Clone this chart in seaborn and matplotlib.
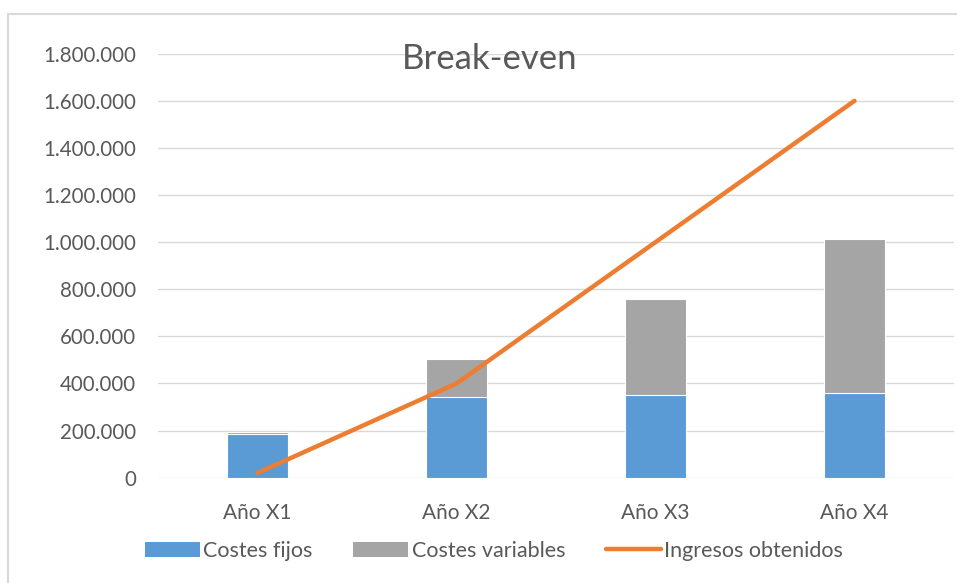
import numpy as np
import pandas as pd
import matplotlib
matplotlib.use("Agg")
import matplotlib.pyplot as plt
from matplotlib.lines import Line2D
from matplotlib.patches import Patch
from matplotlib.ticker import FuncFormatter
import seaborn as sns

years = ["Año X1", "Año X2", "Año X3", "Año X4"]
costes_fijos = [186000, 341000, 351000, 361000]
costes_variables = [8000, 163000, 408000, 654000]
ingresos = [20000, 400000, 1000000, 1600000]
y_ticks = [0, 200000, 400000, 600000, 800000, 1000000, 1200000, 1400000, 1600000, 1800000]

BLUE = "#5B9BD5"
GRAY = "#A5A5A5"
ORANGE = "#ED7D31"
TXT = "#595959"
GRID = "#D9D9D9"

sns.set_theme(style="white")
plt.rcParams["font.family"] = ["Lato", "DejaVu Sans"]

df = pd.DataFrame({"year": years, "fijos": costes_fijos,
                   "variables": costes_variables, "ingresos": ingresos})
df["total"] = df["fijos"] + df["variables"]

fig = plt.figure(figsize=(9.57, 5.83), dpi=100)
ax = fig.add_axes([158/957, 1-477.7/583, (954-158)/957, (477.7-53.7)/583])

sns.barplot(data=df, x="year", y="total", color=GRAY, width=0.31, ax=ax,
            saturation=1, edgecolor="white", linewidth=0.8, zorder=2)
sns.barplot(data=df, x="year", y="fijos", color=BLUE, width=0.31, ax=ax,
            saturation=1, edgecolor="white", linewidth=0.8, zorder=3)
ax.plot(np.arange(len(years)), df["ingresos"], color=ORANGE, lw=3.2,
        solid_capstyle="round", solid_joinstyle="round", zorder=4)

ax.set_xlim(-0.5, len(years) - 0.5)
ax.set_ylim(0, 1800000)
ax.set_yticks(y_ticks)
ax.yaxis.set_major_formatter(FuncFormatter(lambda v, p: f"{int(v):,}".replace(",", ".")))
ax.yaxis.grid(True, color=GRID, lw=1.0, zorder=0)
ax.set_axisbelow(True)
for s in ax.spines.values():
    s.set_visible(False)
ax.tick_params(axis="both", length=0, colors=TXT)
ax.tick_params(axis="y", pad=16, labelsize=14.8)
ax.tick_params(axis="x", pad=18, labelsize=15)
ax.set_xlabel("")
ax.set_ylabel("")

fig.text(490/957, 1-59/583, "Break-even", ha="center", va="center",
         fontsize=25, color=TXT)

handles = [Patch(facecolor=BLUE, edgecolor="none"),
           Patch(facecolor=GRAY, edgecolor="none"),
           Line2D([0], [0], color=ORANGE, lw=3.2, solid_capstyle="round")]
labels = ["Costes fijos", "Costes variables", "Ingresos obtenidos"]
leg = fig.legend(handles, labels, loc="center", bbox_to_anchor=(494/957, 1-551/583),
                 ncol=3, frameon=False, fontsize=15.5, handlelength=2.55,
                 handleheight=0.75, handletextpad=0.15, columnspacing=1.9)
for t in leg.get_texts():
    t.set_color(TXT)

# chart-area border
fig.add_artist(Line2D([8/957, 1], [1-14/583, 1-14/583], color=GRID, lw=1.5,
                      transform=fig.transFigure))
fig.add_artist(Line2D([8/957, 8/957], [0, 1-14/583], color=GRID, lw=1.5,
                      transform=fig.transFigure))

fig.savefig("out.png", dpi=100, facecolor="white")
